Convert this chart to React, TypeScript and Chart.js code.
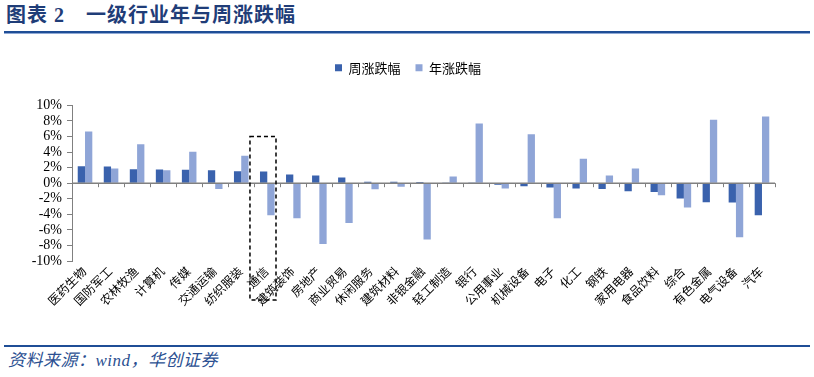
import React, { useEffect, useRef } from "react";
import { Chart, registerables } from "chart.js";

Chart.register(...registerables);

const categories = [
  "医药生物", "国防军工", "农林牧渔", "计算机", "传媒", "交通运输", "纺织服装",
  "通信", "建筑装饰", "房地产", "商业贸易", "休闲服务", "建筑材料", "非银金融",
  "轻工制造", "银行", "公用事业", "机械设备", "电子", "化工", "钢铁",
  "家用电器", "食品饮料", "综合", "有色金属", "电气设备", "汽车",
];

const weeklyChange = [
  2.19, 2.15, 1.8, 1.76, 1.72, 1.67, 1.55, 1.5, 1.12, 0.99, 0.73, 0.2, 0.2, 0.15,
  0.08, 0.03, -0.2, -0.39, -0.56, -0.69, -0.73, -1.03, -1.12, -1.97, -2.45, -2.49, -4.12,
];

const annualChange = [
  6.65, 1.9, 5.0, 1.67, 4.03, -0.73, 3.52, -4.12, -4.5, -7.8, -5.1, -0.77, -0.45, -7.25,
  0.86, 7.68, -0.69, 6.3, -4.5, 3.13, 0.99, 1.89, -1.55, -3.13, 8.15, -6.95, 8.58,
];

const seriesNames = ["周涨跌幅", "年涨跌幅"];
const yMin = -10;
const yMax = 10;
const yStep = 2;
const highlightCategory = "通信";
const highlightTop = 6;

const FONT = "'Liberation Serif', 'Noto Sans CJK SC', serif";
const CJK = "'Noto Sans CJK SC', sans-serif";
const BLUE_TEXT = "#1F3D78";

const legendTweak = {
  id: "legendTweak",
  beforeInit(chart: any) {
    const legend = chart.legend;
    if (!legend) return;
    const origFit = legend.fit;
    legend.fit = function () {
      origFit.call(this);
      this.height += 21.2;
    };
    const origDraw = legend.draw;
    legend.draw = function () {
      const ctx = this.ctx;
      ctx.save();
      ctx.translate(20.5, 0);
      origDraw.call(this);
      ctx.restore();
    };
  },
};

const zeroAxis = {
  id: "zeroAxis",
  afterDatasetsDraw(chart: any) {
    const { ctx, chartArea, scales } = chart;
    const x = scales.x;
    const y = scales.y;
    const y0 = y.getPixelForValue(0);
    const w = x.getPixelForValue(1) - x.getPixelForValue(0);
    ctx.save();
    ctx.strokeStyle = "#808080";
    ctx.lineWidth = 1.5;
    ctx.beginPath();
    ctx.moveTo(chartArea.left, y0);
    ctx.lineTo(chartArea.right, y0);
    ctx.stroke();
    ctx.lineWidth = 1;
    ctx.beginPath();
    for (let i = 0; i <= categories.length; i++) {
      const px = Math.round(x.getPixelForValue(i) - w / 2) + 0.5;
      ctx.moveTo(px, y0);
      ctx.lineTo(px, y0 + 4);
    }
    ctx.stroke();

    const idx = categories.indexOf(highlightCategory);
    if (idx >= 0) {
      const left = x.getPixelForValue(idx) - w * 0.665;
      const top = y.getPixelForValue(highlightTop);
      const bottom = chartArea.bottom + 39;
      ctx.strokeStyle = "#000";
      ctx.lineWidth = 1.5;
      ctx.setLineDash([4, 3]);
      ctx.strokeRect(left, top, w, bottom - top);
    }
    ctx.restore();
  },
};

function BarChart() {
  const ref = useRef<HTMLCanvasElement | null>(null);
  useEffect(() => {
    if (!ref.current) return;
    const chart = new Chart(ref.current, {
      type: "bar",
      data: {
        labels: categories,
        datasets: [
          {
            label: seriesNames[0],
            data: weeklyChange,
            backgroundColor: "#3A62AD",
            categoryPercentage: 0.56,
            barPercentage: 1,
          },
          {
            label: seriesNames[1],
            data: annualChange,
            backgroundColor: "#8FA5D7",
            categoryPercentage: 0.56,
            barPercentage: 1,
          },
        ],
      },
      options: {
        animation: false,
        responsive: false,
        maintainAspectRatio: false,
        layout: { padding: { left: 0, right: 39, top: 6.2, bottom: 0 } },
        plugins: {
          legend: {
            position: "top",
            align: "center",
            labels: {
              boxWidth: 7,
              boxHeight: 7,
              padding: 15,
              color: "#000",
              font: { size: 13, family: CJK },
            },
          },
          tooltip: { enabled: false },
        },
        scales: {
          x: {
            grid: { display: false, drawTicks: false },
            border: { display: false },
            ticks: {
              autoSkip: false,
              maxRotation: 45,
              minRotation: 45,
              padding: 4,
              color: "#000",
              font: { size: 12, family: FONT },
            },
            afterFit: (s: any) => {
              s.height = 79;
            },
          },
          y: {
            min: yMin,
            max: yMax,
            grid: { drawOnChartArea: false, drawTicks: true, tickLength: 5, color: "#808080" },
            border: { color: "#808080", width: 1 },
            ticks: {
              stepSize: yStep,
              autoSkip: false,
              padding: 5,
              color: "#000",
              font: { size: 14, family: FONT },
              callback: (v: any) => `${v}%`,
            },
            afterFit: (s: any) => {
              s.width = 72;
            },
          },
        },
      },
      plugins: [legendTweak, zeroAxis],
    });
    return () => chart.destroy();
  }, []);
  return <canvas ref={ref} width={814} height={300} style={{ display: "block" }} />;
}

export default function App() {
  return (
    <div
      style={{
        position: "absolute",
        left: 0,
        top: 0,
        width: 814,
        height: 377,
        background: "#fff",
        overflow: "hidden",
      }}
    >
      <div
        style={{
          position: "absolute",
          left: 6,
          top: 3,
          fontFamily: FONT,
          fontWeight: "bold",
          fontSize: 20,
          letterSpacing: 1,
          color: BLUE_TEXT,
          whiteSpace: "pre",
          lineHeight: "24px",
        }}
      >
        {"图表 2　一级行业年与周涨跌幅"}
      </div>
      <div style={{ position: "absolute", left: 4, top: 31, width: 806, height: 2, background: "#1F4E96" }} />
      <div style={{ position: "absolute", left: 4, top: 33, width: 806, height: 1, background: "#8FA9D6" }} />
      <div style={{ position: "absolute", left: 0, top: 40, width: 814, height: 300 }}>
        <BarChart />
      </div>
      <div style={{ position: "absolute", left: 4, top: 345, width: 806, height: 2, background: "#1F4E96" }} />
      <div
        style={{
          position: "absolute",
          left: 8,
          top: 351,
          fontFamily: FONT,
          fontStyle: "italic",
          fontSize: 17,
          letterSpacing: 0.5,
          color: "#2B4F91",
          whiteSpace: "pre",
          lineHeight: "20px",
        }}
      >
        {"资料来源：wind，华创证券"}
      </div>
    </div>
  );
}
